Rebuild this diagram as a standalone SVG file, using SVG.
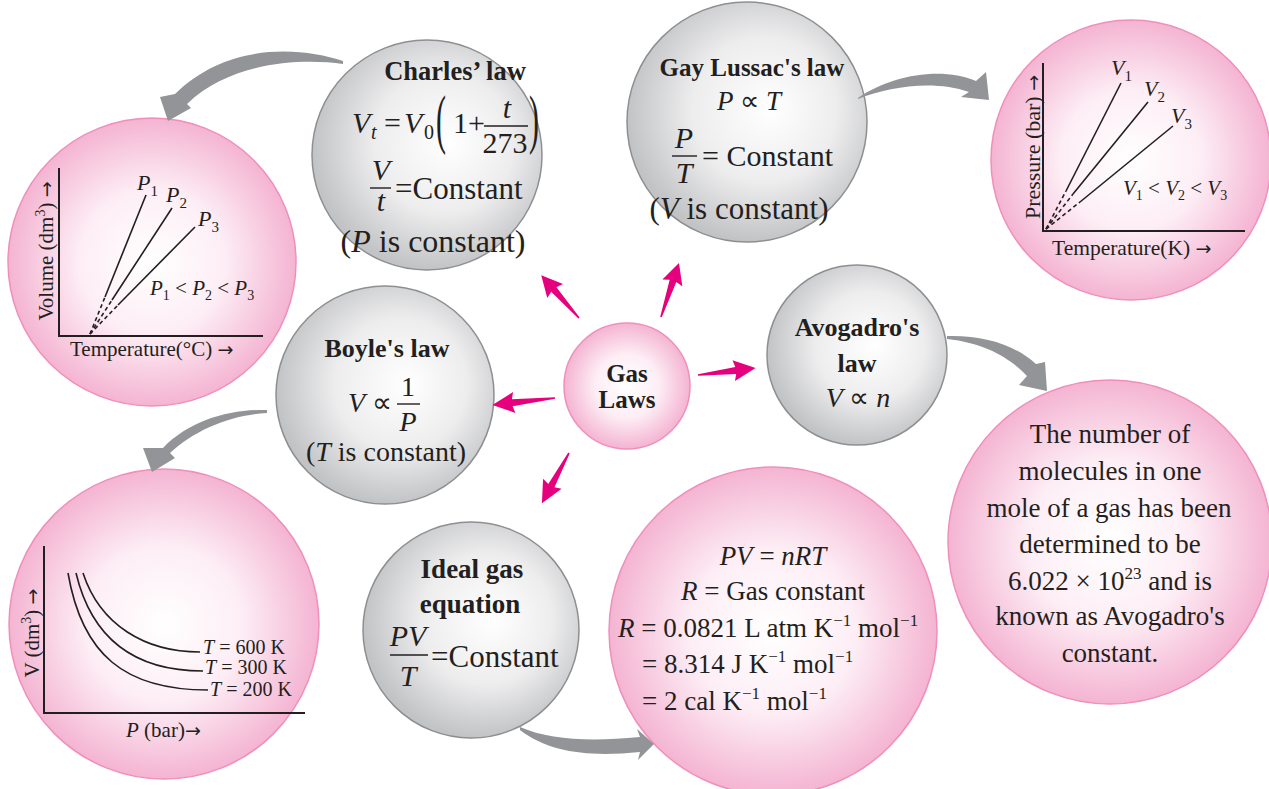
<svg xmlns="http://www.w3.org/2000/svg" width="1269" height="789" viewBox="0 0 1269 789">
<defs>
<radialGradient id="pink" cx="0.5" cy="0.5" r="0.5">
<stop offset="0" stop-color="#ffffff"/>
<stop offset="0.5" stop-color="#fdeef5"/>
<stop offset="1" stop-color="#f4b4d2"/>
</radialGradient>
<radialGradient id="grey" cx="0.55" cy="0.45" r="0.55" fx="0.6" fy="0.45">
<stop offset="0" stop-color="#ffffff"/>
<stop offset="0.55" stop-color="#ededee"/>
<stop offset="1" stop-color="#c2c3c5"/>
</radialGradient>
<style>
.s{font-family:"Liberation Serif","Times New Roman",serif;fill:#231f20}
.b{font-weight:bold}
.i{font-style:italic}
.m{text-anchor:middle}
.ar{font-family:"DejaVu Sans",sans-serif;font-style:normal}
.pc{fill:url(#pink);stroke:#f08fbb;stroke-width:1.5}
.gc{fill:url(#grey);stroke:#8e8f91;stroke-width:1.5}
.ax{stroke:#231f20;stroke-width:2;fill:none}
.ln{stroke:#231f20;stroke-width:1.6;fill:none}
.ds{stroke:#231f20;stroke-width:1.6;fill:none;stroke-dasharray:4 3}
.fb{stroke:#231f20;stroke-width:1.4}
.pa{fill:#e6007e}
.ga{fill:#929497}
</style>
</defs>

<g id="charles-graph">
<circle class="pc" cx="152" cy="262" r="144"/>
<line class="ax" x1="59" y1="168" x2="59" y2="336"/>
<line class="ax" x1="58" y1="336" x2="263" y2="336"/>
<line class="ln" x1="105" y1="297" x2="146" y2="195"/>
<line class="ln" x1="112" y1="300" x2="172" y2="208"/>
<line class="ln" x1="118" y1="305" x2="195" y2="227"/>
<line class="ds" x1="90" y1="334" x2="105" y2="297"/>
<line class="ds" x1="90" y1="334" x2="112" y2="300"/>
<line class="ds" x1="90" y1="334" x2="118" y2="305"/>
<text class="s i" font-size="22" x="137" y="190">P<tspan font-style="normal" font-size="15" dy="6">1</tspan></text>
<text class="s i" font-size="22" x="166" y="202">P<tspan font-style="normal" font-size="15" dy="6">2</tspan></text>
<text class="s i" font-size="22" x="198" y="226">P<tspan font-style="normal" font-size="15" dy="6">3</tspan></text>
<text class="s i" font-size="21" x="150" y="295">P<tspan font-style="normal" font-size="14" dy="5">1</tspan><tspan font-style="normal" dy="-5"> &lt; </tspan>P<tspan font-style="normal" font-size="14" dy="5">2</tspan><tspan font-style="normal" dy="-5"> &lt; </tspan>P<tspan font-style="normal" font-size="14" dy="5">3</tspan></text>
<text class="s m" font-size="21" transform="translate(53,251) rotate(-90)">Volume (dm<tspan font-size="14" dy="-8">3</tspan><tspan dy="8">) </tspan><tspan class="ar" font-size="19">→</tspan></text>
<text class="s" font-size="21" x="70" y="356">Temperature(°C) <tspan class="ar" font-size="19">→</tspan></text>
</g>

<g id="gaylussac-graph">
<circle class="pc" cx="1131" cy="160" r="140"/>
<line class="ax" x1="1043" y1="63" x2="1043" y2="231"/>
<line class="ax" x1="1042" y1="231" x2="1245" y2="231"/>
<line class="ln" x1="1066" y1="191" x2="1121" y2="83"/>
<line class="ln" x1="1073" y1="194" x2="1148" y2="102"/>
<line class="ln" x1="1080" y1="202" x2="1173" y2="126"/>
<line class="ds" x1="1046" y1="229" x2="1066" y2="191"/>
<line class="ds" x1="1046" y1="229" x2="1073" y2="194"/>
<line class="ds" x1="1046" y1="229" x2="1080" y2="202"/>
<text class="s i" font-size="22" x="1111" y="75">V<tspan font-style="normal" font-size="15" dy="6">1</tspan></text>
<text class="s i" font-size="22" x="1144" y="96">V<tspan font-style="normal" font-size="15" dy="6">2</tspan></text>
<text class="s i" font-size="22" x="1171" y="123">V<tspan font-style="normal" font-size="15" dy="6">3</tspan></text>
<text class="s i" font-size="21" x="1123" y="195">V<tspan font-style="normal" font-size="14" dy="5">1</tspan><tspan font-style="normal" dy="-5"> &lt; </tspan>V<tspan font-style="normal" font-size="14" dy="5">2</tspan><tspan font-style="normal" dy="-5"> &lt; </tspan>V<tspan font-style="normal" font-size="14" dy="5">3</tspan></text>
<text class="s m" font-size="22" transform="translate(1040,147) rotate(-90)">Pressure (bar) <tspan class="ar" font-size="19">→</tspan></text>
<text class="s" font-size="21.5" x="1052" y="255">Temperature(K) <tspan class="ar" font-size="19">→</tspan></text>
</g>

<g id="boyle-graph">
<circle class="pc" cx="164" cy="624" r="155"/>
<line class="ax" x1="44" y1="546" x2="44" y2="713"/>
<line class="ax" x1="43" y1="713" x2="305" y2="713"/>
<path class="ln" d="M68,573 C82,655 125,690 208,690"/>
<path class="ln" d="M76,573 C92,640 135,671 203,671"/>
<path class="ln" d="M83,573 C100,625 145,652 200,652"/>
<text class="s" font-size="20" x="203" y="654"><tspan font-style="italic">T</tspan> = 600 K</text>
<text class="s" font-size="20" x="205" y="674"><tspan font-style="italic">T</tspan> = 300 K</text>
<text class="s" font-size="20" x="210" y="696"><tspan font-style="italic">T</tspan> = 200 K</text>
<text class="s m" font-size="21" transform="translate(39,633) rotate(-90)">V (dm<tspan font-size="14" dy="-8">3</tspan><tspan dy="8">) </tspan><tspan class="ar" font-size="19">→</tspan></text>
<text class="s" font-size="21" x="126" y="737"><tspan font-style="italic">P</tspan> (bar)<tspan class="ar" font-size="19">→</tspan></text>
</g>

<g id="charles">
<circle class="gc" cx="427" cy="155" r="115"/>
<text class="s b m" font-size="26.5" x="455" y="80">Charles’ law</text>
<text class="s i" font-size="30" x="352" y="133">V</text>
<text class="s i" font-size="20" x="371" y="139">t</text>
<text class="s" font-size="30" x="384" y="133">=</text>
<text class="s i" font-size="30" x="404" y="133">V</text>
<text class="s" font-size="20" x="424" y="139">0</text>
<text class="s" font-size="30" transform="translate(436,141) scale(1,2.2)">(</text>
<text class="s" font-size="30" x="453" y="133">1+</text>
<text class="s i m" font-size="30" x="507" y="118">t</text>
<line class="fb" x1="484" y1="126" x2="528" y2="126"/>
<text class="s m" font-size="30" x="505" y="153">273</text>
<text class="s" font-size="30" transform="translate(529,141) scale(1,2.2)">)</text>
<text class="s i m" font-size="30" x="381" y="180">V</text>
<line class="fb" x1="370" y1="188" x2="391" y2="188"/>
<text class="s i m" font-size="30" x="381" y="211">t</text>
<text class="s" font-size="31" x="395" y="199">=Constant</text>
<text class="s m" font-size="32" x="433" y="252">(<tspan font-style="italic">P</tspan> is constant)</text>
</g>

<g id="gaylussac">
<circle class="gc" cx="747" cy="122" r="120"/>
<text class="s b m" font-size="25" x="752" y="76">Gay Lussac's law</text>
<text class="s m" font-size="27" x="749" y="110"><tspan font-style="italic">P</tspan> ∝ <tspan font-style="italic">T</tspan></text>
<text class="s i m" font-size="30" x="684" y="148">P</text>
<line class="fb" x1="672" y1="156" x2="697" y2="156"/>
<text class="s i m" font-size="30" x="684" y="183">T</text>
<text class="s" font-size="30" x="702" y="166">= Constant</text>
<text class="s m" font-size="31" x="739" y="219">(<tspan font-style="italic">V</tspan> is constant)</text>
</g>

<g id="boyle">
<circle class="gc" cx="385" cy="395" r="109"/>
<text class="s b m" font-size="26" x="387" y="357">Boyle's law</text>
<text class="s" font-size="28" x="348" y="412"><tspan font-style="italic">V</tspan> ∝</text>
<text class="s m" font-size="28" x="408" y="396">1</text>
<line class="fb" x1="397" y1="404" x2="420" y2="404"/>
<text class="s i m" font-size="28" x="408" y="431">P</text>
<text class="s m" font-size="28" x="386" y="461">(<tspan font-style="italic">T</tspan> is constant)</text>
</g>

<g id="gaslaws">
<circle class="pc" cx="627" cy="386" r="63" stroke="#e8679f"/>
<text class="s b m" font-size="25" x="627" y="382">Gas</text>
<text class="s b m" font-size="25" x="627" y="408">Laws</text>
</g>

<g id="avogadro">
<circle class="gc" cx="857" cy="355" r="90"/>
<text class="s b m" font-size="26" x="857" y="336">Avogadro's</text>
<text class="s b m" font-size="26" x="857" y="372">law</text>
<text class="s i m" font-size="28" x="858" y="407">V <tspan font-style="normal">∝</tspan> n</text>
</g>

<g id="ideal">
<circle class="gc" cx="471" cy="630" r="108"/>
<text class="s b m" font-size="27" x="472" y="578">Ideal gas</text>
<text class="s b m" font-size="27" x="470" y="613">equation</text>
<text class="s i m" font-size="30" x="408" y="646">PV</text>
<line class="fb" x1="390" y1="655" x2="428" y2="655"/>
<text class="s i m" font-size="30" x="408" y="686">T</text>
<text class="s" font-size="31" x="431" y="667">=Constant</text>
</g>

<g id="idealgas-eq">
<circle class="pc" cx="773" cy="631" r="164"/>
<text class="s m" font-size="27" x="773" y="565"><tspan font-style="italic">PV</tspan> = <tspan font-style="italic">nRT</tspan></text>
<text class="s m" font-size="27" x="773" y="600"><tspan font-style="italic">R</tspan> = Gas constant</text>
<text class="s" font-size="27" x="618" y="637"><tspan font-style="italic">R</tspan> = 0.0821 L atm K<tspan font-size="17" dy="-11">−1</tspan><tspan dy="11"> mol</tspan><tspan font-size="17" dy="-11">−1</tspan></text>
<text class="s" font-size="27" x="642" y="673">= 8.314 J K<tspan font-size="17" dy="-11">−1</tspan><tspan dy="11"> mol</tspan><tspan font-size="17" dy="-11">−1</tspan></text>
<text class="s" font-size="27" x="642" y="710">= 2 cal K<tspan font-size="17" dy="-11">−1</tspan><tspan dy="11"> mol</tspan><tspan font-size="17" dy="-11">−1</tspan></text>
</g>

<g id="avogadro-constant">
<circle class="pc" cx="1110" cy="542" r="162"/>
<text class="s m" font-size="27" x="1110" y="443">The number of</text>
<text class="s m" font-size="27" x="1110" y="480">molecules in one</text>
<text class="s m" font-size="27" x="1109" y="517">mole of a gas has been</text>
<text class="s m" font-size="27" x="1110" y="553">determined to be</text>
<text class="s m" font-size="27" x="1110" y="590">6.022 × 10<tspan font-size="17" dy="-11">23</tspan><tspan dy="11"> and is</tspan></text>
<text class="s m" font-size="27" x="1110" y="625">known as Avogadro's</text>
<text class="s m" font-size="27" x="1110" y="662">constant.</text>
</g>

<g id="connectors">
<path class="pa" transform="translate(579,318) rotate(-131.5)" d="M0,-0.8 L38,-3.5 L36,-10.5 L57,0 L36,10.5 L38,3.5 L0,0.8 Z"/>
<path class="pa" transform="translate(661,317) rotate(-71.6)" d="M0,-0.8 L38,-3.5 L36,-10.5 L57,0 L36,10.5 L38,3.5 L0,0.8 Z"/>
<path class="pa" transform="translate(698,375) rotate(-6.9)" d="M0,-0.8 L38,-3.5 L36,-10.5 L58,0 L36,10.5 L38,3.5 L0,0.8 Z"/>
<path class="pa" transform="translate(555,398) rotate(173.7)" d="M0,-0.8 L43,-3.5 L41,-10.5 L63,0 L41,10.5 L43,3.5 L0,0.8 Z"/>
<path class="pa" transform="translate(569,453) rotate(118.4)" d="M0,-0.8 L37,-3.5 L35,-10.5 L57,0 L35,10.5 L37,3.5 L0,0.8 Z"/>
<path class="ga" d="M343,61 C300,47 228,42 175,94 L160,97 L168,121 L191,108 L187,104 C230,62 300,58 343,64 Z"/>
<path class="ga" d="M858,98 C890,76 940,66 976,81 L986,72 L989,100 L961,97 L969,92 C935,80 890,86 858,99 Z"/>
<path class="ga" d="M947,336 C985,335 1015,345 1036,364 L1045,362 L1047,391 L1019,385 L1027,376 C1010,358 985,343 947,339 Z"/>
<path class="ga" d="M267,410 C230,409 190,420 163,448 L143,448 L152,472 L175,458 L170,453 C195,430 230,415 267,413 Z"/>
<path class="ga" d="M520,727 C550,740 590,742 640,737 L637,729 L654,744 L638,760 L640,752 C590,757 550,753 520,730 Z"/>
</g>
</svg>
